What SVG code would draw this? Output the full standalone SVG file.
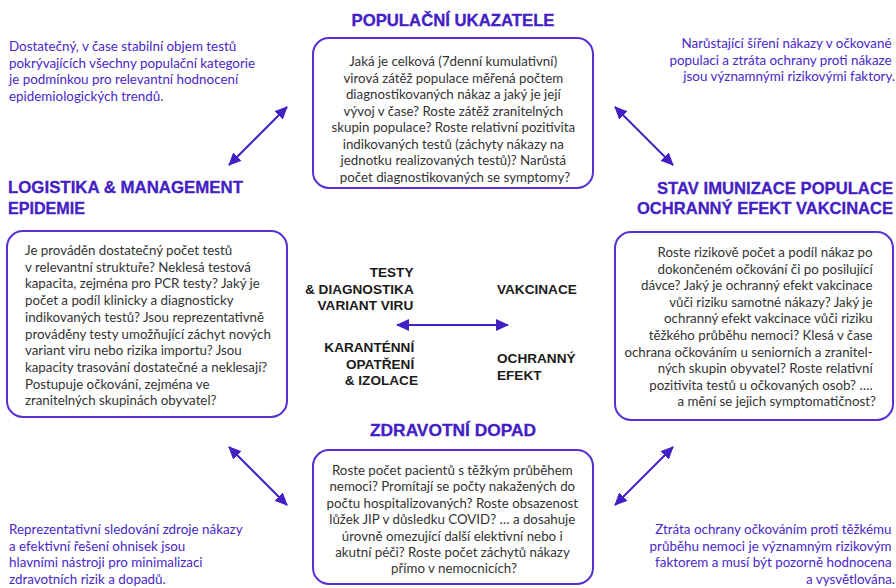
<svg xmlns="http://www.w3.org/2000/svg" width="896" height="588" viewBox="0 0 896 588">
  <style>
    .box { fill: #ffffff; stroke: #5630d2; stroke-width: 2; }
    .title { font-family: "Liberation Sans", Arial, sans-serif; font-weight: 700; font-size: 16.5px; fill: #4320c4; stroke: #4320c4; stroke-width: 0.3; }
    .body { font-family: Lato, "Liberation Sans", sans-serif; font-size: 13.3px; fill: #333333; }
    .note { font-family: Lato, "Liberation Sans", sans-serif; font-size: 13.4px; fill: #4a27c8; }
    .hub { font-family: "Liberation Sans", Arial, sans-serif; font-weight: 700; font-size: 13.6px; fill: #1a1a1a; }
    .link { stroke: #4320c4; stroke-width: 2; fill: none; marker-start: url(#head); marker-end: url(#head); }
  </style>
  <defs>
    <marker id="head" viewBox="0 0 13 12" refX="12" refY="6" markerWidth="13" markerHeight="12" markerUnits="userSpaceOnUse" orient="auto-start-reverse">
      <path d="M0,0 L13,6 L0,12 z" fill="#4320c4"/>
    </marker>
  </defs>
  <rect width="896" height="588" fill="#ffffff"/>

  <!-- connectors -->
  <g id="connectors">
    <line class="link" x1="229" y1="165" x2="287" y2="107"/>
    <line class="link" x1="615" y1="107" x2="673" y2="165"/>
    <line class="link" x1="229" y1="447" x2="287" y2="505"/>
    <line class="link" x1="673" y1="447" x2="615" y2="505"/>
    <line class="link" x1="397" y1="325" x2="508" y2="325"/>
  </g>

  <!-- population indicators -->
  <g id="populace">
    <text class="title" x="453" y="26" text-anchor="middle" textLength="203" lengthAdjust="spacingAndGlyphs">POPULAČNÍ UKAZATELE</text>
    <rect class="box" x="313" y="38" width="280" height="150" rx="16"/>
    <text class="body" text-anchor="middle">
      <tspan x="455" y="66">Jaká je celková (7denní kumulativní)</tspan>
      <tspan x="455" y="82.5">virová zátěž populace měřená počtem</tspan>
      <tspan x="455" y="99">diagnostikovaných nákaz a jaký je její</tspan>
      <tspan x="455" y="115.5">vývoj v čase? Roste zátěž zranitelných</tspan>
      <tspan x="455" y="132">skupin populace? Roste relativní pozitivita</tspan>
      <tspan x="455" y="148.5">indikovaných testů (záchyty nákazy na</tspan>
      <tspan x="455" y="165">jednotku realizovaných testů)? Narůstá</tspan>
      <tspan x="455" y="181.5">počet diagnostikovaných se symptomy?</tspan>
    </text>
  </g>

  <!-- logistics -->
  <g id="logistika">
    <text class="title" x="8" y="193" textLength="235" lengthAdjust="spacingAndGlyphs">LOGISTIKA &amp; MANAGEMENT</text>
    <text class="title" x="8" y="214" textLength="77" lengthAdjust="spacingAndGlyphs">EPIDEMIE</text>
    <rect class="box" x="7" y="231" width="280" height="186" rx="16"/>
    <text class="body">
      <tspan x="25" y="255">Je prováděn dostatečný počet testů</tspan>
      <tspan x="25" y="271.7">v relevantní struktuře? Neklesá testová</tspan>
      <tspan x="25" y="288.4">kapacita, zejména pro PCR testy? Jaký je</tspan>
      <tspan x="25" y="305.1">počet a podíl klinicky a diagnosticky</tspan>
      <tspan x="25" y="321.8">indikovaných testů? Jsou reprezentativně</tspan>
      <tspan x="25" y="338.5">prováděny testy umožňující záchyt nových</tspan>
      <tspan x="25" y="355.2">variant viru nebo rizika importu? Jsou</tspan>
      <tspan x="25" y="371.9">kapacity trasování dostatečné a neklesají?</tspan>
      <tspan x="25" y="388.6">Postupuje očkování, zejména ve</tspan>
      <tspan x="25" y="405.3">zranitelných skupinách obyvatel?</tspan>
    </text>
  </g>

  <!-- immunity -->
  <g id="imunizace">
    <text class="title" x="893" y="194" text-anchor="end" textLength="236" lengthAdjust="spacingAndGlyphs">STAV IMUNIZACE POPULACE</text>
    <text class="title" x="893" y="214" text-anchor="end" textLength="256" lengthAdjust="spacingAndGlyphs">OCHRANNÝ EFEKT VAKCINACE</text>
    <rect class="box" x="615" y="232" width="278" height="188" rx="16"/>
    <text class="body" text-anchor="end">
      <tspan x="876" y="257">Roste rizikově počet a podíl nákaz po</tspan>
      <tspan x="876" y="273.6">dokončeném očkování či po posilující</tspan>
      <tspan x="876" y="290.2">dávce? Jaký je ochranný efekt vakcinace</tspan>
      <tspan x="876" y="306.8">vůči riziku samotné nákazy? Jaký je</tspan>
      <tspan x="876" y="323.4">ochranný efekt vakcinace vůči riziku</tspan>
      <tspan x="876" y="340">těžkého průběhu nemoci? Klesá v čase</tspan>
      <tspan x="876" y="356.6">ochrana očkováním u seniorních a zranitel-</tspan>
      <tspan x="876" y="373.2">ných skupin obyvatel? Roste relativní</tspan>
      <tspan x="876" y="389.8">pozitivita testů u očkovaných osob? ….</tspan>
      <tspan x="876" y="406.4">a mění se jejich symptomatičnost?</tspan>
    </text>
  </g>

  <!-- health impact -->
  <g id="dopad">
    <text class="title" x="453" y="436" text-anchor="middle" textLength="166" lengthAdjust="spacingAndGlyphs">ZDRAVOTNÍ DOPAD</text>
    <rect class="box" x="313" y="450" width="280" height="134" rx="16"/>
    <text class="body" text-anchor="middle">
      <tspan x="454" y="475">Roste počet pacientů s těžkým průběhem</tspan>
      <tspan x="454" y="491.4">nemoci? Promítají se počty nakažených do</tspan>
      <tspan x="454" y="507.8">počtu hospitalizovaných? Roste obsazenost</tspan>
      <tspan x="454" y="524.2">lůžek JIP v důsledku COVID? … a dosahuje</tspan>
      <tspan x="454" y="540.6">úrovně omezující další elektivní nebo i</tspan>
      <tspan x="454" y="557">akutní péči? Roste počet záchytů nákazy</tspan>
      <tspan x="454" y="573.4">přímo v nemocnicích?</tspan>
    </text>
  </g>

  <!-- central tools -->
  <g id="nastroje">
    <text class="hub" text-anchor="end">
      <tspan x="417" y="277">TESTY</tspan>
      <tspan x="417" y="293.5">&amp; DIAGNOSTIKA</tspan>
      <tspan x="417" y="310">VARIANT VIRU</tspan>
      <tspan x="418" y="352">KARANTÉNNÍ</tspan>
      <tspan x="418" y="368.5">OPATŘENÍ</tspan>
      <tspan x="418" y="385">&amp; IZOLACE</tspan>
    </text>
    <text class="hub">
      <tspan x="497" y="293.5">VAKCINACE</tspan>
      <tspan x="497" y="363">OCHRANNÝ</tspan>
      <tspan x="497" y="379.5">EFEKT</tspan>
    </text>
  </g>

  <!-- side notes -->
  <g id="poznamky">
    <text class="note">
      <tspan x="9" y="51">Dostatečný, v čase stabilní objem testů</tspan>
      <tspan x="9" y="67.7">pokrývajících všechny populační kategorie</tspan>
      <tspan x="9" y="84.4">je podmínkou pro relevantní hodnocení</tspan>
      <tspan x="9" y="101.1">epidemiologických trendů.</tspan>
    </text>
    <text class="note" text-anchor="end">
      <tspan x="895" y="48">Narůstající šíření nákazy v očkované</tspan>
      <tspan x="895" y="64.7">populaci a ztráta ochrany proti nákaze</tspan>
      <tspan x="895" y="81.4">jsou významnými rizikovými faktory.</tspan>
    </text>
    <text class="note">
      <tspan x="9" y="534">Reprezentativní sledování zdroje nákazy</tspan>
      <tspan x="9" y="550.7">a efektivní řešení ohnisek jsou</tspan>
      <tspan x="9" y="567.4">hlavními nástroji pro minimalizaci</tspan>
      <tspan x="9" y="584.1">zdravotních rizik a dopadů.</tspan>
    </text>
    <text class="note" text-anchor="end">
      <tspan x="895" y="534">Ztráta ochrany očkováním proti těžkému</tspan>
      <tspan x="895" y="550.7">průběhu nemoci je významným rizikovým</tspan>
      <tspan x="895" y="567.4">faktorem a musí být pozorně hodnocena</tspan>
      <tspan x="895" y="584.1">a vysvětlována.</tspan>
    </text>
  </g>
</svg>
